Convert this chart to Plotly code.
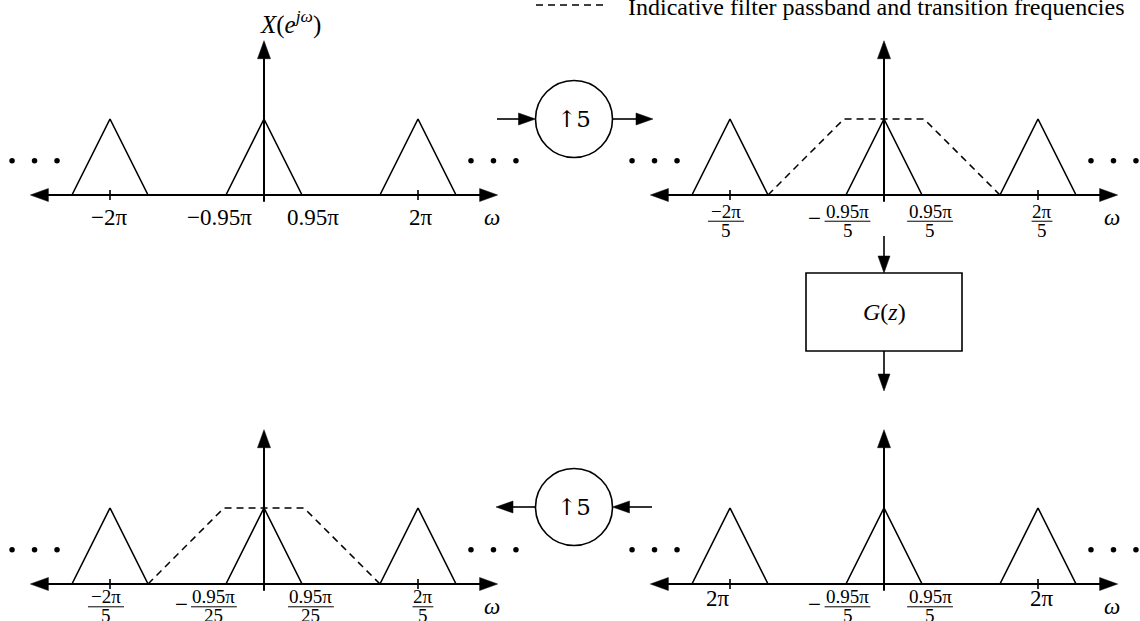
import plotly.graph_objects as go

W, H = 1140, 621
SX, SY = 154.0, 76.0          # pixels per panel unit (x: replica spacing, y: replica height)
FONT = "Liberation Serif"

# ---------------- data (panel units: replica spacing = 1, replica height = 1) ----------------
replica_centers = [-1.0, 0.0, 1.0]
replica_halfwidth = 0.247
replica_height = 1.0
tick_positions = [-1.0, 1.0]
ellipsis_offsets = [1.344, 1.490, 1.636]
ellipsis_level = 0.45
passband_freqs = [-0.753, -0.26, 0.26, 0.753]
passband_gain = [0.0, 1.0, 1.0, 0.0]

# top-left spectrum X(e^jw): plain tick labels
tl_text = ["−2π", "−0.95π", "0.95π", "2π"]
tl_pos = [-1.006, -0.286, 0.318, 1.02]

# top-right spectrum (after upsampling by 5): fraction labels
tr_sign = ["", "−", "", ""]
tr_num = ["−2π", "0.95π", "0.95π", "2π"]
tr_den = ["5", "5", "5", "5"]
tr_pos = [-1.026, -0.237, 0.299, 1.026]

# bottom-right spectrum (after G(z))
br_text = ["2π", "2π"]
br_text_pos = [-1.078, 1.026]
br_sign = ["−", ""]
br_num = ["0.95π", "0.95π"]
br_den = ["5", "5"]
br_pos = [-0.237, 0.299]

# bottom-left spectrum (after second ↑5)
bl_sign = ["", "−", "", ""]
bl_num = ["−2π", "0.95π", "0.95π", "2π"]
bl_den = ["5", "25", "25", "5"]
bl_pos = [-1.026, -0.325, 0.305, 1.032]

legend_text = "Indicative filter passband and transition frequencies"

# ---------------- layout of the four panels (pixel placement) ----------------
PANELS = {
    "tl": dict(ax="", ox=264, oy=195, x0=0, x1=530, y0=0, y1=250),
    "tr": dict(ax="2", ox=884, oy=195, x0=610, x1=1140, y0=0, y1=250),
    "br": dict(ax="3", ox=884, oy=584, x0=610, x1=1140, y0=400, y1=621),
    "bl": dict(ax="4", ox=264, oy=584, x0=0, x1=530, y0=400, y1=621),
}
# label offsets below the frequency axis: (plain, numerator, bar, denominator, omega)
ROW_Y = {
    "top": dict(plain=-0.30, num=-0.215, bar=-0.345, den=-0.465, omega=-0.30),
    "bottom": dict(plain=-0.19, num=-0.17, bar=-0.30, den=-0.415, omega=-0.29),
}
AXIS_TIP = 1.517
VAXIS_TIP = 2.03
VAXIS_LOW = -0.09
TICK_H = 0.066
OMEGA_X = 1.48
TXT = 23
FRAC = 19

fig = go.Figure()
annotations = []
shapes = []

EM = {"0": 0.5, "1": 0.5, "2": 0.5, "5": 0.5, "9": 0.5, ".": 0.28, "π": 0.57, "−": 0.78}


def em_width(s, size):
    return sum(EM.get(ch, 0.5) for ch in s) * size


def add_line(xs, ys, ref, width=1.6, dash=None, color="black"):
    fig.add_trace(go.Scatter(x=xs, y=ys, mode="lines", xaxis="x" + ref, yaxis="y" + ref,
                             line=dict(color=color, width=width, dash=dash),
                             hoverinfo="skip", showlegend=False))


def add_head(tip_x, tip_y, dx, dy, ref, sx, sy, L=18.0, w=6.5):
    px, py = -dx * L, -dy * L
    nx, ny = -dy * w, dx * w
    bx, by = tip_x + px / sx, tip_y - py / sy
    xs = [tip_x, bx + nx / sx, bx - nx / sx, tip_x]
    ys = [tip_y, by - ny / sy, by + ny / sy, tip_y]
    fig.add_trace(go.Scatter(x=xs, y=ys, mode="lines", fill="toself", fillcolor="black",
                             xaxis="x" + ref, yaxis="y" + ref, line=dict(color="black", width=0.5),
                             hoverinfo="skip", showlegend=False))


def text(x, y, s, ref, size=TXT, xanchor="center", yanchor="middle", family=FONT):
    annotations.append(dict(x=x, y=y, xref="x" + ref, yref="y" + ref, text=s, showarrow=False,
                            xanchor=xanchor, yanchor=yanchor,
                            font=dict(family=family, size=size, color="black")))


def fraction(pos, sign, num, den, ref, row, size=FRAC):
    r = ROW_Y[row]
    bw = em_width(num, 19.5)
    text(pos, r["num"], num, ref, size=size)
    add_line([pos - bw / 2 / SX, pos + bw / 2 / SX], [r["bar"], r["bar"]], ref, width=1.0)
    text(pos, r["den"], den, ref, size=size)
    if sign:
        text(pos - (bw / 2 + 10) / SX, r["bar"] + 0.03, sign, ref, size=size + 4)


layout_axes = {}
for key, p in PANELS.items():
    ref = p["ax"]
    row = "top" if key in ("tl", "tr") else "bottom"
    layout_axes["xaxis" + ref] = dict(domain=[p["x0"] / W, p["x1"] / W],
                                      range=[(p["x0"] - p["ox"]) / SX, (p["x1"] - p["ox"]) / SX],
                                      visible=False, anchor="y" + ref, fixedrange=True)
    layout_axes["yaxis" + ref] = dict(domain=[1 - p["y1"] / H, 1 - p["y0"] / H],
                                      range=[(p["oy"] - p["y1"]) / SY, (p["oy"] - p["y0"]) / SY],
                                      visible=False, anchor="x" + ref, fixedrange=True)

    # replicas (triangles)
    xs, ys = [], []
    for c in replica_centers:
        xs += [c - replica_halfwidth, c, c + replica_halfwidth, None]
        ys += [0, replica_height, 0, None]
    add_line(xs, ys, ref, width=1.6)

    # filter passband (dashed)
    if key in ("tr", "bl"):
        add_line(passband_freqs, passband_gain, ref, width=1.5, dash="7px,5px")

    # frequency axis with arrowheads both ends
    hl = 17.0 / SX
    add_line([-AXIS_TIP + hl, AXIS_TIP - hl], [0, 0], ref, width=2.2)
    add_head(AXIS_TIP, 0, 1, 0, ref, SX, SY)
    add_head(-AXIS_TIP, 0, -1, 0, ref, SX, SY)
    # magnitude axis
    add_line([0, 0], [VAXIS_LOW, VAXIS_TIP - 17.0 / SY], ref, width=2.0)
    add_head(0, VAXIS_TIP, 0, -1, ref, SX, SY)
    # ticks
    xs, ys = [], []
    for t in tick_positions:
        xs += [t, t, None]
        ys += [-TICK_H, TICK_H, None]
    add_line(xs, ys, ref, width=1.6)
    # ellipsis dots
    dx = [-o for o in ellipsis_offsets] + ellipsis_offsets
    fig.add_trace(go.Scatter(x=dx, y=[ellipsis_level] * len(dx), mode="markers",
                             xaxis="x" + ref, yaxis="y" + ref,
                             marker=dict(color="black", size=5.5), hoverinfo="skip", showlegend=False))
    # omega label
    text(OMEGA_X, ROW_Y[row]["omega"], "<i>ω</i>", ref, size=TXT)

# labels
for s, x in zip(tl_text, tl_pos):
    text(x, ROW_Y["top"]["plain"], s, "", size=TXT)
text(0.17, 2.27, "<i>X</i>(<i>e</i><sup><i>jω</i></sup>)", "", size=25)
for sg, n, d, x in zip(tr_sign, tr_num, tr_den, tr_pos):
    fraction(x, sg, n, d, "2", "top")
for s, x in zip(br_text, br_text_pos):
    text(x, ROW_Y["bottom"]["plain"], s, "3", size=TXT)
for sg, n, d, x in zip(br_sign, br_num, br_den, br_pos):
    fraction(x, sg, n, d, "3", "bottom")
for sg, n, d, x in zip(bl_sign, bl_num, bl_den, bl_pos):
    fraction(x, sg, n, d, "4", "bottom")

# ---------------- block diagram overlay (pixel axis) ----------------
layout_axes["xaxis5"] = dict(domain=[0, 1], range=[0, W], visible=False, anchor="y5", fixedrange=True)
layout_axes["yaxis5"] = dict(domain=[0, 1], range=[H, 0], visible=False, anchor="x5", fixedrange=True)

CIRCLES = [(574, 119), (574, 507)]
R = 38.5
for cx, cy in CIRCLES:
    shapes.append(dict(type="circle", xref="x5", yref="y5", x0=cx - R, x1=cx + R, y0=cy - R, y1=cy + R,
                       line=dict(color="black", width=1.6)))
    text(cx, cy, "↑5", "5", size=TXT, family="DejaVu Serif")

BOX = (806, 273, 962, 351)
shapes.append(dict(type="rect", xref="x5", yref="y5", x0=BOX[0], y0=BOX[1], x1=BOX[2], y1=BOX[3],
                   line=dict(color="black", width=1.6)))
text(884, 312, "<i>G</i>(<i>z</i>)", "5", size=24)

# connector arrows: (start, tip)
CONNECTORS = [((497, 119), (535.5, 119)), ((612.5, 119), (653, 119)),
              ((884, 236), (884, 273)), ((884, 351), (884, 391)),
              ((652, 507), (612.5, 507)), ((535.5, 507), (496, 507))]
for (x0, y0), (x1, y1) in CONNECTORS:
    L = ((x1 - x0) ** 2 + (y1 - y0) ** 2) ** 0.5
    ux, uy = (x1 - x0) / L, (y1 - y0) / L
    add_line([x0, x1 - ux * 15], [y0, y1 - uy * 15], "5", width=1.6)
    px, py = -ux * 17, -uy * 17
    nx, ny = -uy * 6, ux * 6
    bx, by = x1 + px, y1 + py
    fig.add_trace(go.Scatter(x=[x1, bx + nx, bx - nx, x1], y=[y1, by + ny, by - ny, y1], mode="lines",
                             fill="toself", fillcolor="black", line=dict(color="black", width=0.5),
                             xaxis="x5", yaxis="y5", hoverinfo="skip", showlegend=False))

# legend sample
add_line([536, 604], [5, 5], "5", width=1.5, dash="7px,5px")
annotations.append(dict(x=626, y=7, xref="x5", yref="y5", text=legend_text, showarrow=False,
                        xanchor="left", yanchor="middle", font=dict(family=FONT, size=24, color="black")))

fig.update_layout(width=W, height=H, margin=dict(l=0, r=0, t=0, b=0),
                  paper_bgcolor="white", plot_bgcolor="rgba(0,0,0,0)",
                  annotations=annotations, shapes=shapes, showlegend=False, **layout_axes)

fig.write_html("out.html", config={"displayModeBar": False, "staticPlot": True},
               post_script="document.body.style.margin='0';document.body.style.padding='0';")
